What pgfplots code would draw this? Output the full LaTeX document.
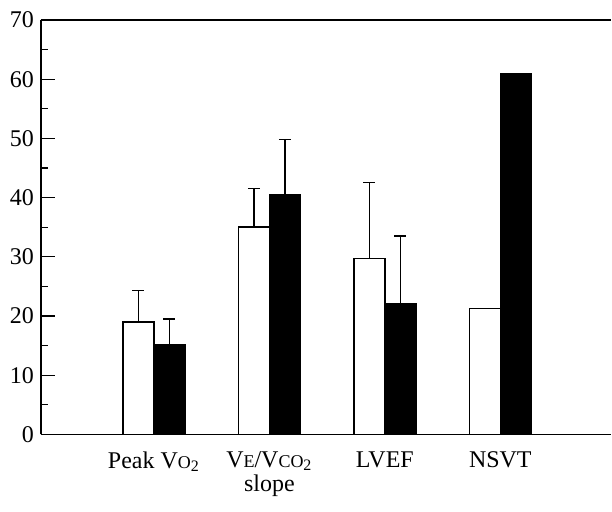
\documentclass[border=0pt]{standalone}
\usepackage{fontspec}
\setmainfont{Liberation Serif}
\usepackage{pgfplots}
\pgfplotsset{compat=1.18}
\usetikzlibrary{calc}

% group centres at 0..3; white = first value, black = second
\pgfplotstableread{
x  val  err
0  19.0 5.3
1  35.0 6.5
2  29.7 12.8
3  21.3 0
}\whitebars
\pgfplotstableread{
x  val  err
0  15.2 4.3
1  40.5 9.3
2  22.0 11.5
3  61.0 0
}\blackbars

\begin{document}
\begin{tikzpicture}
\begin{axis}[
  scale only axis, width=285.5pt, height=207.5pt,
  ybar=0pt, bar width=15.5pt,
  xmin=-0.978, xmax=3.96, ymin=0, ymax=70,
  axis x line*=box, axis y line*=left,
  axis line style={line width=0.8pt},
  xtick={0,1,2,3},
  xticklabels={Peak V{\small O}\textsubscript{2},
    V{\small E}/V{\small CO}\textsubscript{2}\\[-2pt]slope,
    LVEF, NSVT},
  xticklabel style={align=center, anchor=north, yshift=-5pt},
  x tick style={draw=none},
  ytick distance=10, minor y tick num=1,
  tick align=inside,
  major tick length=7pt, minor tick length=3.5pt,
  y tick style={line width=0.6pt, black},
  /pgf/number format/assume math mode=true,
  tick label style={font=\fontsize{12}{14}\selectfont},
  error bars/y dir=plus, error bars/y explicit,
  error bars/error bar style={line width=0.7pt, black},
  error bars/error mark options={black, line width=0.7pt, mark size=3pt, rotate=90},
]
\addplot[draw=black, fill=white, line width=0.7pt]
  table[x=x, y=val, y error=err] {\whitebars};
\addplot[draw=black, fill=black, line width=0.7pt]
  table[x=x, y=val, y error=err] {\blackbars};
\end{axis}
\path ($(current axis.south west)+(-20.5pt,-38.5pt)$) rectangle ($(current axis.north east)+(0,10pt)$);
\end{tikzpicture}
\end{document}
